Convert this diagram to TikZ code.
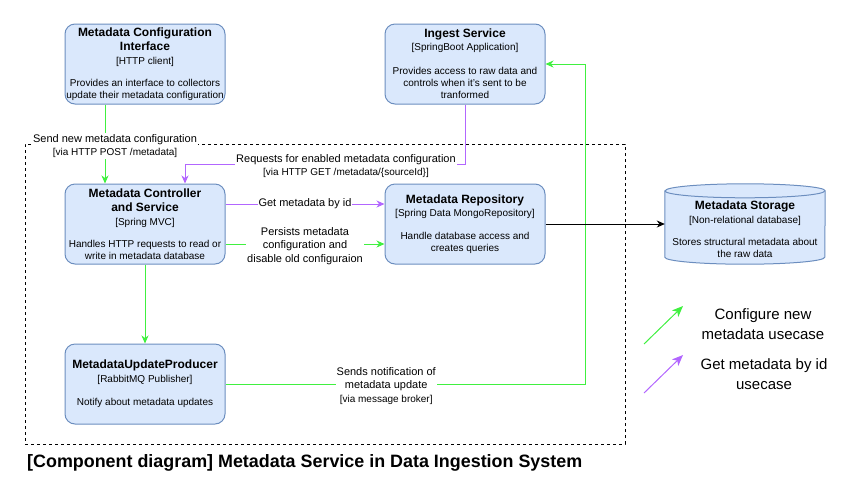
\documentclass[tikz,border=0pt]{standalone}
\usepackage{fontspec}
\setmainfont{Liberation Sans}
\usepackage{xcolor}
\usepackage{tikz}
\usetikzlibrary{positioning, arrows.meta, backgrounds}
\definecolor{compfill}{HTML}{DAE8FC}
\definecolor{compline}{HTML}{6C8EBF}
\definecolor{cfggreen}{HTML}{40F040}
\definecolor{getpurple}{HTML}{B266FF}
\newcommand{\ctitle}[1]{{\fontsize{12}{14}\selectfont\bfseries #1}}
\newcommand{\ctech}[1]{{\fontsize{10}{12}\selectfont #1}}
\tikzset{>={Stealth[length=8pt, width=7pt, inset=2.5pt]},
         node distance=160pt,
         component/.style={draw=compline, fill=compfill, line width=1pt, rounded corners=10pt,
                           minimum width=160pt, minimum height=80pt, inner sep=1pt,
                           align=center, font=\fontsize{10}{12}\selectfont},
         storage/.style={minimum width=160pt, minimum height=80pt, inner sep=1pt,
                         align=center, font=\fontsize{10}{12}\selectfont},
         boundary/.style={draw, line width=0.8pt, dash pattern=on 3pt off 3pt,
                          minimum width=600pt, minimum height=300pt},
         cfgflow/.style={->, draw=cfggreen, line width=1pt},
         getflow/.style={->, draw=getpurple, line width=1pt},
         flowlabel/.style={fill=white, inner sep=1pt, align=center, font=\fontsize{11}{13.5}\selectfont},
         legendtip/.style={>={Stealth[length=11pt, width=9pt, inset=3pt]}},
         legendtext/.style={align=center, font=\fontsize{15}{20}\selectfont},
         }

\begin{document}
\begin{tikzpicture}[x=1pt, y=-1pt]
    \useasboundingbox (0,0) rectangle (859,499);
    \node[boundary] (sysbox) at (325,294) {};

    \node[component] (cfg) at (145,64) {\ctitle{Metadata Configuration}\\[2pt]\ctitle{Interface}\\[2pt]\ctech{[HTTP client]}\\[10pt]Provides an interface to collectors\\update their metadata configuration};
    \node[component, right of=cfg, node distance=320pt] (ingest) {\ctitle{Ingest Service}\\[1pt]\ctech{[SpringBoot Application]}\\[12pt]Provides access to raw data and\\controls when it's sent to be\\tranformed};
    \node[component, below of=cfg] (ctrl) {\ctitle{Metadata Controller}\\[2pt]\ctitle{and Service}\\[2pt]\ctech{[Spring MVC]}\\[10pt]Handles HTTP requests to read or\\write in metadata database};
    \node[component, below of=ingest] (repo) {\ctitle{Metadata Repository}\\[1pt]\ctech{[Spring Data MongoRepository]}\\[11pt]Handle database access and\\creates queries};
    \node[component, below of=ctrl] (prod) {\ctitle{MetadataUpdateProducer}\\[2pt]\ctech{[RabbitMQ Publisher]}\\[11pt]Notify about metadata updates};
    \node[storage, right of=repo, node distance=280pt] (store) {\ctitle{\rule{0pt}{20pt}Metadata Storage}\\[2pt]\ctech{[Non-relational database]}\\[10pt]Stores structural metadata about\\the raw data};
    \begin{scope}[on background layer]
        \filldraw[fill=compfill, draw=compline, line width=1pt]
            ([yshift=-7pt]store.north west) -- ([yshift=7pt]store.south west)
            arc[start angle=180, end angle=360, x radius=80pt, y radius=7pt]
            -- ([yshift=-7pt]store.north east)
            arc[start angle=0, end angle=180, x radius=80pt, y radius=7pt] -- cycle;
        \draw[draw=compline, line width=1pt] ([yshift=-7pt]store.north west)
            arc[start angle=180, end angle=360, x radius=80pt, y radius=7pt];
    \end{scope}

    \coordinate (reqturn) at (465,164);
    \coordinate (reqcorner) at (185,164);
    \coordinate (notifyturn) at (585,384);

    % configure new metadata
    \draw[cfgflow] ([xshift=-40pt]cfg.south) -- node[flowlabel, xshift=10pt, yshift=-2pt] {Send new metadata configuration\\\ctech{[via HTTP POST /metadata]}} ([xshift=-40pt]ctrl.north);
    \draw[cfgflow] ([yshift=-20pt]ctrl.east) -- node[flowlabel, yshift=-2pt] {Persists metadata\\configuration and\\disable old configuraion} ([yshift=-20pt]repo.west);
    \draw[cfgflow] (ctrl) -- (prod);
    \draw[cfgflow] (prod.east) -- node[flowlabel, pos=0.447, yshift=-2pt] {Sends notification of\\metadata update\\\ctech{[via message broker]}} (notifyturn) |- (ingest.east);

    % get metadata by id
    \draw[getflow] (ingest.south) -- (reqturn) -- node[flowlabel, pos=0.425, yshift=-2pt] {Requests for enabled metadata configuration\\\ctech{[via HTTP GET /metadata/\{sourceId\}]}} (reqcorner) -- ([xshift=40pt]ctrl.north);
    \draw[getflow] ([yshift=20pt]ctrl.east) -- node[flowlabel] {Get metadata by id} ([yshift=20pt]repo.west);

    \draw[->, line width=1pt] (repo) -- (store);

    % legend
    \coordinate (cfgtail) at (644,344);
    \coordinate (cfghead) at (683,306);
    \coordinate (gettail) at (644,393);
    \coordinate (gethead) at (683,355);
    \draw[legendtip, cfgflow] (cfgtail) -- (cfghead);
    \draw[legendtip, getflow] (gettail) -- (gethead);
    \node[legendtext] (cfgnote) at (763,324) {Configure new\\metadata usecase};
    \node[legendtext] (getnote) at (764,374) {Get metadata by id\\usecase};

    \node[anchor=base west, inner sep=0pt, font=\fontsize{17.9}{21}\selectfont\bfseries] (diagtitle) at (27,467) {[Component diagram] Metadata Service in Data Ingestion System};
\end{tikzpicture}
\end{document}
